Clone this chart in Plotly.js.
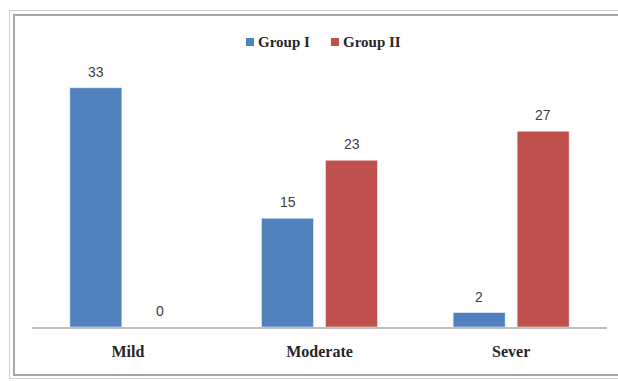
<!DOCTYPE html>
<html>
<head>
<meta charset="utf-8">
<script src="https://cdn.plot.ly/plotly-3.0.1.min.js"></script>
<style>
html,body{margin:0;padding:0;background:#fff;overflow:hidden;}
#chart{width:618px;height:381px;position:relative;}
.fr{position:absolute;pointer-events:none;}
</style>
</head>
<body>
<div id="chart"></div>
<script>
const categories = ["Mild", "Moderate", "Sever"];
const groupI = [33, 15, 2];
const groupII = [0, 23, 27];
const seriesNames = ["Group I", "Group II"];

const colors = ["#4F81BD", "#C0504D"];
const series = [groupI, groupII];

const traces = series.map((vals, si) => ({
  type: "bar", name: seriesNames[si], x: categories, y: vals,
  marker: {color: colors[si], line: {color: "#ffffff", width: 0.5}},
  hoverinfo: "none", showlegend: false
}));

// plot area: x 32..607 px, y 37..327 px
const px = x => (x - 32) / 575;
const py = y => (327 - y) / 290;

const annotations = [];
series.forEach((vals, si) => {
  vals.forEach((v, i) => {
    annotations.push({
      x: categories[i], y: v, xref: "x", yref: "y",
      text: String(v), showarrow: false,
      xshift: si === 0 ? -32 : 32, yshift: 16, yanchor: "middle",
      font: {family: "Liberation Sans, Arial, sans-serif", size: 14, color: "#404040"}
    });
  });
});

// custom legend (symbol + label), placed like the original
const legendX = [246, 331];
const shapes = [];
seriesNames.forEach((name, si) => {
  shapes.push({type: "rect", xref: "paper", yref: "paper",
    x0: px(legendX[si]), x1: px(legendX[si] + 8), y0: py(46), y1: py(38),
    fillcolor: colors[si], line: {width: 0}});
  annotations.push({xref: "paper", yref: "paper", x: px(legendX[si] + 10), y: py(42),
    xanchor: "left", yanchor: "middle", showarrow: false, text: name,
    font: {family: "Liberation Serif, Times New Roman, serif", size: 15, color: "#262626", weight: "bold"}});
});

const layout = {
  width: 618, height: 381,
  margin: {l: 32, r: 11, t: 37, b: 54},
  paper_bgcolor: "#ffffff", plot_bgcolor: "#ffffff",
  bargap: 0.332, bargroupgap: 0.1875, barmode: "group",
  showlegend: false,
  xaxis: {type: "category", showgrid: false, zeroline: false, showline: true,
    linecolor: "#BFBFBF", linewidth: 1.5, ticks: "", ticklen: 0, ticklabelstandoff: 9,
    tickfont: {family: "Liberation Serif, Times New Roman, serif", size: 16, color: "#262626", weight: "bold"},
    automargin: false},
  yaxis: {range: [0, 40], showgrid: false, zeroline: false, showline: false,
    showticklabels: false, ticks: "", automargin: false},
  annotations: annotations,
  shapes: shapes
};

Plotly.newPlot("chart", traces, layout, {displayModeBar: false, staticPlot: true}).then(() => {
  // page frame around the chart (left, top, bottom; right side is cut off)
  const host = document.getElementById("chart");
  const mk = (l, t, w, h, c) => {
    const d = document.createElement("div");
    d.className = "fr";
    d.style.cssText = `left:${l}px;top:${t}px;width:${w}px;height:${h}px;background:${c};`;
    host.appendChild(d);
  };
  mk(9, 10, 1, 369, "#D0D0D0");
  mk(9, 10, 640, 1, "#D0D0D0");
  mk(9, 378, 640, 1, "#D0D0D0");
  mk(13, 14, 2, 361, "#A6A6A6");
  mk(13, 14, 640, 2, "#A6A6A6");
  mk(13, 374, 640, 2, "#A6A6A6");
});
</script>
</body>
</html>
